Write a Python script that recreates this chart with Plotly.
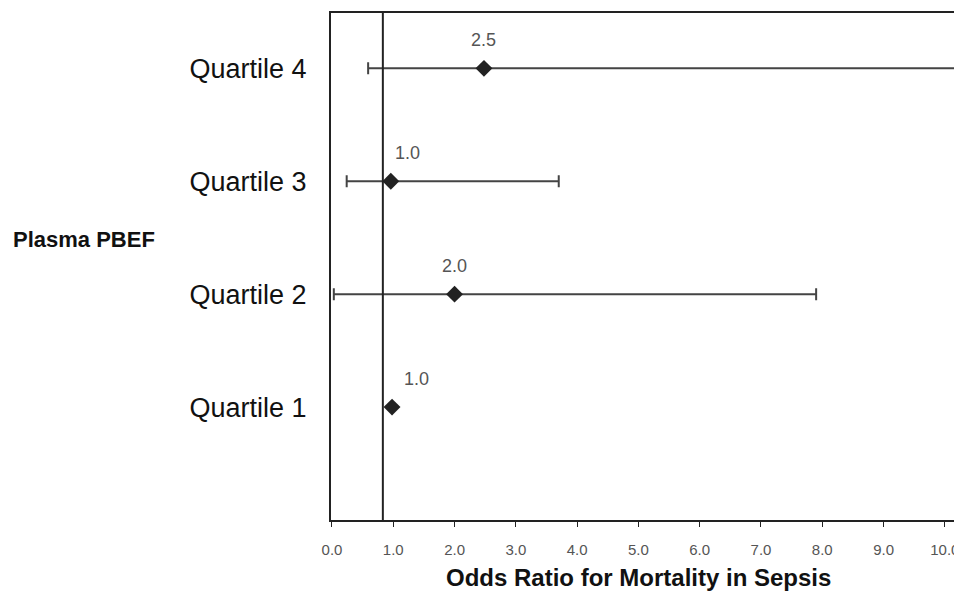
import plotly.graph_objects as go

categories = ["Quartile 1", "Quartile 2", "Quartile 3", "Quartile 4"]
odds_ratio = [0.98, 2.0, 0.96, 2.48]
ci_lower = [0.98, 0.03, 0.24, 0.59]
ci_upper = [0.98, 7.9, 3.7, 12.0]
value_labels = ["1.0", "2.0", "1.0", "2.5"]
ref_line = 0.83

ypos = [1, 2, 3, 4]
err_plus = [u - o for u, o in zip(ci_upper, odds_ratio)]
err_minus = [o - l for o, l in zip(odds_ratio, ci_lower)]

fig = go.Figure()
fig.add_trace(go.Scatter(
    x=odds_ratio, y=ypos, mode="markers",
    marker=dict(symbol="diamond", size=13, color="#222222"),
    error_x=dict(type="data", symmetric=False, array=err_plus, arrayminus=err_minus,
                 color="#444444", thickness=2, width=6),
    showlegend=False, cliponaxis=True,
))

fig.add_shape(type="line", x0=ref_line, x1=ref_line, y0=0, y1=1, xref="x", yref="paper",
              line=dict(color="#222222", width=2))

label_xshift = [24, 0, 17, 0]
for xv, yv, t, dx in zip(odds_ratio, ypos, value_labels, label_xshift):
    fig.add_annotation(x=xv, y=yv, text=t, showarrow=False, xshift=dx, yshift=28,
                       font=dict(family="Liberation Sans, Arial", size=18, color="#555555"))

fig.add_annotation(xref="paper", yref="paper", x=0, y=0.554, xanchor="left", xshift=-320,
                   text="<b>Plasma PBEF</b>", showarrow=False,
                   font=dict(family="Liberation Sans, Arial", size=22, color="#111111"))

fig.add_annotation(xref="paper", yref="paper", x=0.5, y=0, xanchor="center", yanchor="top",
                   xshift=-8, yshift=-42,
                   text="<b>Odds Ratio for Mortality in Sepsis</b>", showarrow=False,
                   font=dict(family="Liberation Sans, Arial", size=24, color="#111111"))

fig.update_layout(
    width=954, height=585,
    margin=dict(l=323, r=0, t=5, b=73),
    plot_bgcolor="white", paper_bgcolor="white",
    xaxis=dict(range=[-0.016, 10.28], tickmode="array",
               tickvals=[0, 1, 2, 3, 4, 5, 6, 7, 8, 9, 10],
               ticktext=["0.0", "1.0", "2.0", "3.0", "4.0", "5.0", "6.0", "7.0", "8.0", "9.0", "10.0"],
               showgrid=False, zeroline=False, showline=True, linecolor="#222222", linewidth=2,
               mirror=True, ticks="outside", ticklen=5, tickcolor="#222222", tickwidth=1,
               ticklabelstandoff=10,
               tickfont=dict(family="Liberation Sans, Arial", size=15, color="#555555")),
    yaxis=dict(range=[0, 4.49], tickmode="array", tickvals=ypos, ticktext=categories,
               showgrid=False, zeroline=False, showline=True, linecolor="#222222", linewidth=2,
               ticks="", ticklabelstandoff=17,
               tickfont=dict(family="Liberation Sans, Arial", size=27, color="#111111")),
)

fig.write_html("out.html")
